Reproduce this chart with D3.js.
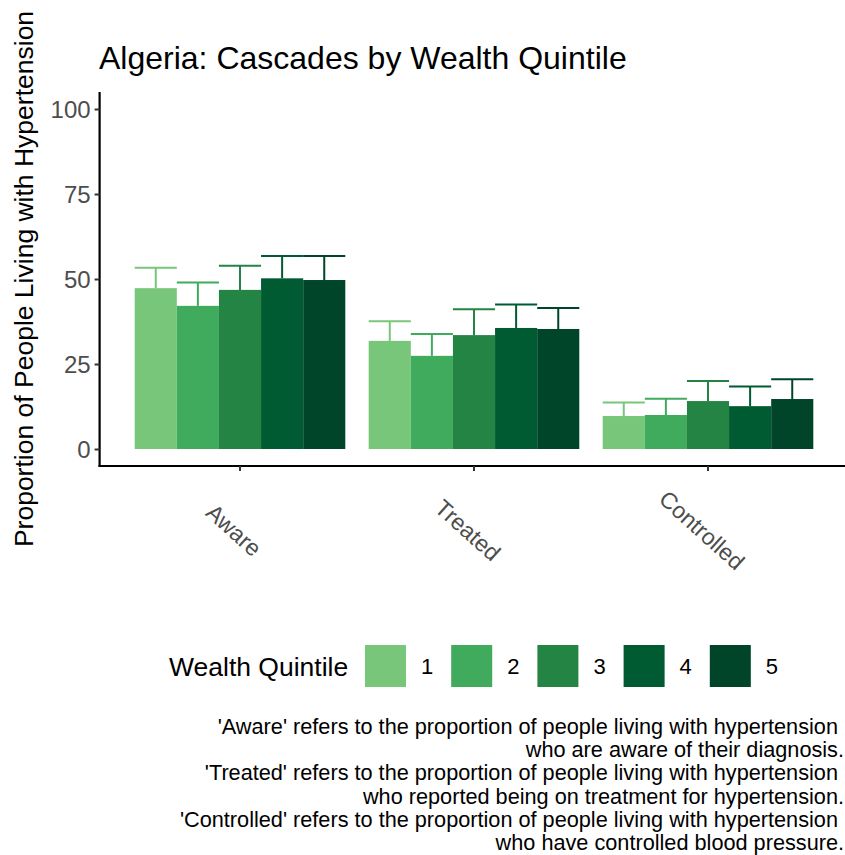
<!DOCTYPE html>
<html>
<head>
<meta charset="utf-8">
<script src="https://cdn.jsdelivr.net/npm/d3@7"></script>
<style>
  body { margin: 0; background: #fff; overflow: hidden; }
  svg { font-family: "Liberation Sans", Arial, sans-serif; display: block; }
</style>
</head>
<body>
<div id="chart"></div>
<script>
// Data
const stages = ["Aware", "Treated", "Controlled"];
const quintiles = ["1", "2", "3", "4", "5"];
const estimates = [
    [47.3, 42.1, 46.8, 50.2, 49.7],   // Aware
    [31.8, 27.4, 33.5, 35.6, 35.3],   // Treated
    [9.7, 10.0, 14.1, 12.6, 14.7]     // Controlled
];
const upperCI = [
    [53.3, 49.0, 53.9, 56.8, 56.8],
    [37.6, 33.8, 41.1, 42.5, 41.5],
    [13.7, 14.8, 20.0, 18.4, 20.5]
];
const yTicks = [0, 25, 50, 75, 100];
const colors = ["#78c679", "#41ab5d", "#238443", "#005a32", "#004529"];
const captionLines = [
    "'Aware' refers to the proportion of people living with hypertension ",
    "who are aware of their diagnosis.",
    "'Treated' refers to the proportion of people living with hypertension ",
    "who reported being on treatment for hypertension.",
    "'Controlled' refers to the proportion of people living with hypertension ",
    "who have controlled blood pressure."
];

let width = 845, height = 855;
let panel = { left: 99.6, right: 848.4, top: 92, bottom: 466 };

let svg = d3.select("#chart")
    .append("svg")
    .attr("width", width)
    .attr("height", height);

let x = d3.scaleBand()
    .domain(stages)
    .range([panel.left, panel.right])
    .paddingInner(0.1)
    .paddingOuter(0.15);

let xq = d3.scaleBand()
    .domain(quintiles)
    .range([0, x.bandwidth()]);

let y = d3.scaleLinear()
    .domain([-5, 105])
    .range([panel.bottom, panel.top]);

let color = d3.scaleOrdinal().domain(quintiles).range(colors);

// flatten into rows
let rows = [];
stages.forEach(function(s, i) {
    quintiles.forEach(function(q, j) {
        rows.push({ stage: s, q: q, value: estimates[i][j], upper: upperCI[i][j] });
    });
});

// error bars (drawn first, bars cover the lower half)
let eb = svg.append("g").selectAll("g")
    .data(rows)
    .enter().append("g")
    .attr("stroke", function(d) { return color(d.q); })
    .attr("stroke-width", 2);

eb.append("line")
    .attr("x1", function(d) { return x(d.stage) + xq(d.q) + xq.bandwidth() / 2; })
    .attr("x2", function(d) { return x(d.stage) + xq(d.q) + xq.bandwidth() / 2; })
    .attr("y1", function(d) { return y(d.value); })
    .attr("y2", function(d) { return y(d.upper); });

eb.append("line")
    .attr("x1", function(d) { return x(d.stage) + xq(d.q); })
    .attr("x2", function(d) { return x(d.stage) + xq(d.q) + xq.bandwidth(); })
    .attr("y1", function(d) { return y(d.upper); })
    .attr("y2", function(d) { return y(d.upper); });

// bars
svg.append("g").selectAll("rect")
    .data(rows)
    .enter().append("rect")
    .attr("x", function(d) { return x(d.stage) + xq(d.q); })
    .attr("width", xq.bandwidth())
    .attr("y", function(d) { return y(d.value); })
    .attr("height", function(d) { return y(0) - y(d.value); })
    .attr("fill", function(d) { return color(d.q); });

// y axis
let yAxis = svg.append("g")
    .attr("transform", "translate(" + panel.left + ",0)")
    .call(d3.axisLeft(y).tickValues(yTicks).tickSize(5).tickPadding(4));
yAxis.select(".domain").attr("stroke", "#000").attr("stroke-width", 2.2)
    .attr("d", "M0," + panel.top + "V" + (panel.bottom + 1));
yAxis.selectAll(".tick line").attr("stroke", "#333").attr("stroke-width", 2);
yAxis.selectAll(".tick text")
    .attr("fill", "#4d4d4d")
    .style("font-size", "24px")
    .attr("dy", "0.36em");

// x axis
let xAxis = svg.append("g")
    .attr("transform", "translate(0," + panel.bottom + ")")
    .call(d3.axisBottom(x).tickSize(5).tickPadding(4));
xAxis.select(".domain").attr("stroke", "#000").attr("stroke-width", 2.2)
    .attr("d", "M" + (panel.left - 1) + ",0H" + panel.right);
xAxis.selectAll(".tick line").attr("stroke", "#333").attr("stroke-width", 2);
xAxis.selectAll(".tick text")
    .attr("fill", "#4d4d4d")
    .style("font-size", "23px")
    .attr("text-anchor", "middle")
    .attr("y", 0)
    .attr("dy", "0.36em")
    .attr("transform", "translate(-6,64) rotate(42)");

// title
svg.append("text")
    .attr("x", 99)
    .attr("y", 69)
    .style("font-size", "32px")
    .attr("fill", "#000")
    .text("Algeria: Cascades by Wealth Quintile");

// y axis title
svg.append("text")
    .attr("transform", "translate(33," + ((panel.top + panel.bottom) / 2) + ") rotate(-90)")
    .attr("text-anchor", "middle")
    .style("font-size", "26.5px")
    .text("Proportion of People Living with Hypertension");

// legend
let legend = svg.append("g");
legend.append("text")
    .attr("x", 169)
    .attr("y", 666)
    .attr("dy", "0.36em")
    .style("font-size", "26.5px")
    .text("Wealth Quintile");

let keys = legend.selectAll("g.key")
    .data(quintiles)
    .enter().append("g")
    .attr("class", "key")
    .attr("transform", function(d, i) { return "translate(" + (365 + i * 86.2) + ",645)"; });
keys.append("rect")
    .attr("width", 41)
    .attr("height", 42)
    .attr("fill", function(d) { return color(d); });
keys.append("text")
    .attr("x", 56)
    .attr("y", 21)
    .attr("dy", "0.36em")
    .style("font-size", "22px")
    .text(function(d) { return d; });

// caption
svg.append("g").selectAll("text")
    .data(captionLines)
    .enter().append("text")
    .attr("x", 844)
    .attr("y", function(d, i) { return 734 + i * 23.2; })
    .attr("text-anchor", "end")
    .style("font-size", "21.7px")
    .style("white-space", "pre")
    .text(function(d) { return d; });
</script>
</body>
</html>
